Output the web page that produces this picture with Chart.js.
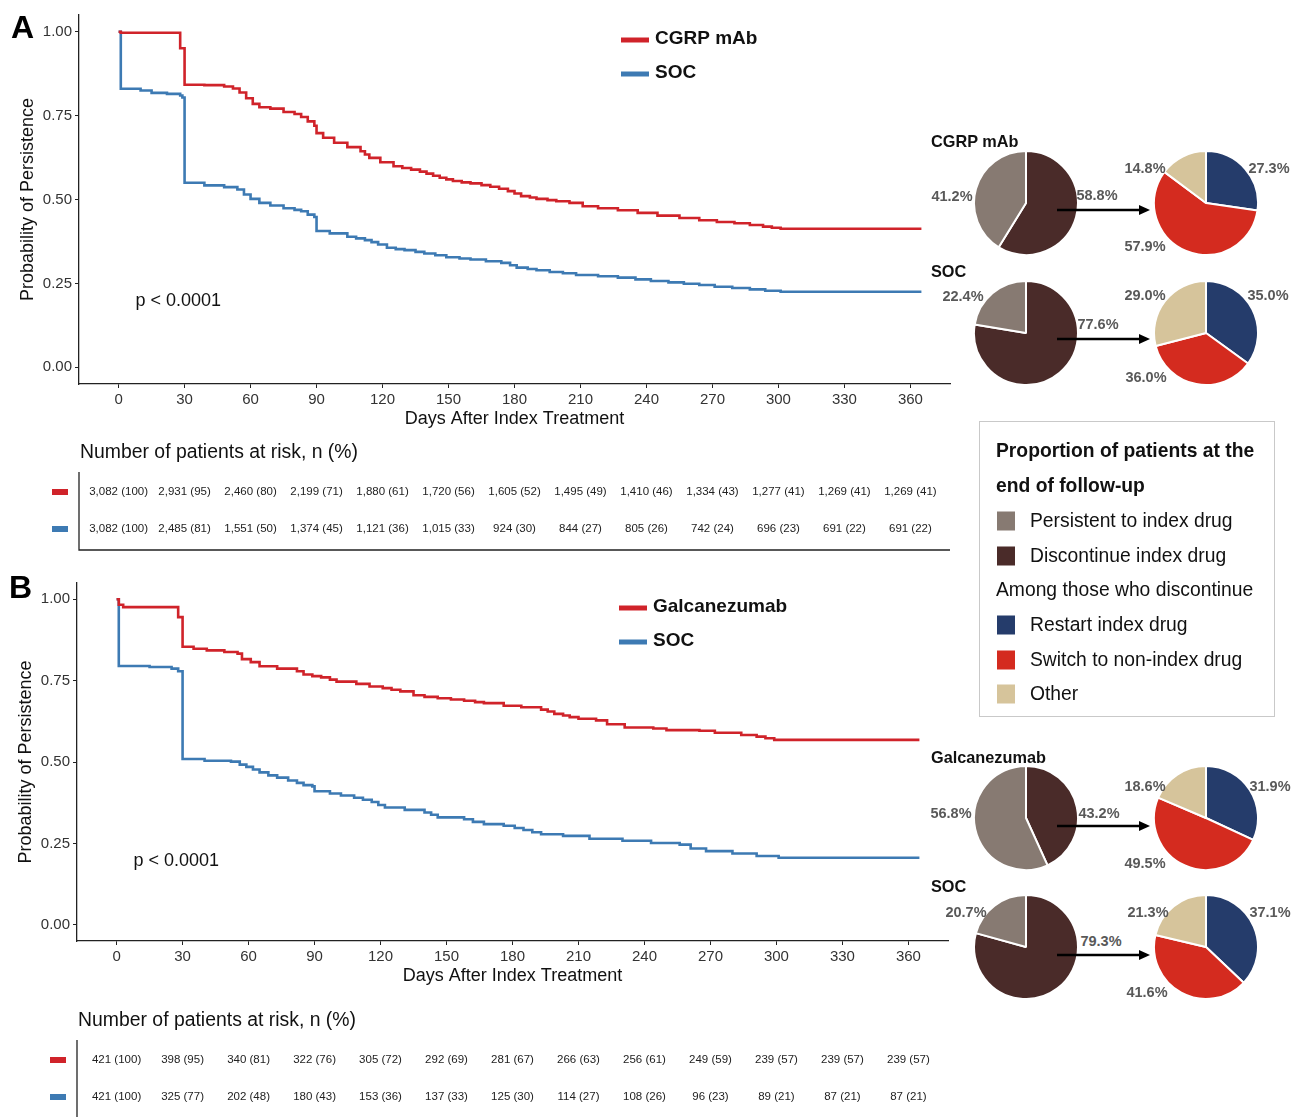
<!DOCTYPE html>
<html>
<head>
<meta charset="utf-8">
<script src="https://cdn.jsdelivr.net/npm/chart.js@4.4.1/dist/chart.umd.min.js"></script>
<style>
  body { margin: 0; background: #fff; font-family: "Liberation Sans", Arial, sans-serif; }
  #page { position: relative; width: 1302px; height: 1117px; overflow: hidden; background: #fff; }
  .abs { position: absolute; }
  .lab { position: absolute; transform: translate(-50%, -50%); font-weight: bold; font-size: 14.5px; color: #595959; white-space: nowrap; }
  .gtitle { position: absolute; transform: translateY(-50%); font-weight: bold; font-size: 16.3px; color: #111; white-space: nowrap; }
  #key { position: absolute; left: 979px; top: 421px; width: 294px; height: 294px; border: 1.5px solid #c9c9c9; }
  #key div { position: absolute; white-space: nowrap; font-size: 19.3px; color: #111; transform: translateY(-50%); }
  #key .sw { width: 18px; height: 19px; transform: translateY(-50%); }
</style>
</head>
<body>
<div id="page">
  <canvas id="kmA" class="abs" width="960" height="560" style="left:0;top:0"></canvas>
  <canvas id="kmB" class="abs" width="960" height="549" style="left:-2px;top:568px"></canvas>
  <div id="pies"></div>
  <svg id="arrows" class="abs" width="1302" height="1117" style="left:0;top:0;pointer-events:none"></svg>
  <div id="key"></div>
</div>
<script>
const RED = "#d0232a";
const BLUE = "#3d7ab3";

// axis ticks
const dayTicks = [0, 30, 60, 90, 120, 150, 180, 210, 240, 270, 300, 330, 360];
const probTicks = [0, 0.25, 0.5, 0.75, 1];

// panel A: CGRP mAb vs SOC
const daysA_cgrp = [0, 1, 28, 30, 39, 48, 52, 55, 58, 61, 64, 69, 75, 80, 83, 86, 89, 90, 93, 98, 104, 110, 112, 114, 119, 125, 129, 133, 137, 140, 143, 146, 149, 152, 156, 160, 165, 169, 173, 177, 180, 183, 187, 190, 195, 199, 205, 211, 218, 227, 236, 245, 255, 264, 272, 280, 287, 293, 297, 301, 365];
const survA_cgrp = [1.0, 0.997, 0.951, 0.842, 0.841, 0.837, 0.831, 0.819, 0.802, 0.785, 0.775, 0.771, 0.761, 0.755, 0.746, 0.733, 0.720, 0.698, 0.684, 0.669, 0.656, 0.644, 0.634, 0.624, 0.611, 0.599, 0.594, 0.589, 0.583, 0.577, 0.571, 0.565, 0.560, 0.555, 0.551, 0.548, 0.543, 0.538, 0.532, 0.525, 0.518, 0.510, 0.506, 0.502, 0.498, 0.495, 0.490, 0.480, 0.474, 0.468, 0.460, 0.452, 0.445, 0.438, 0.433, 0.429, 0.424, 0.419, 0.416, 0.413, 0.413];
const daysA_soc = [0, 1, 10, 15, 22, 28, 29, 30, 39, 48, 54, 57, 60, 64, 69, 75, 80, 83, 86, 89, 90, 96, 104, 108, 112, 115, 118, 122, 126, 130, 135, 139, 144, 149, 155, 160, 167, 174, 178, 181, 186, 190, 196, 202, 208, 218, 227, 235, 242, 250, 257, 264, 271, 279, 287, 294, 301, 365];
const survA_soc = [1.0, 0.830, 0.825, 0.818, 0.815, 0.810, 0.804, 0.550, 0.542, 0.537, 0.530, 0.515, 0.502, 0.490, 0.482, 0.474, 0.469, 0.465, 0.455, 0.448, 0.406, 0.399, 0.389, 0.384, 0.379, 0.373, 0.366, 0.356, 0.352, 0.349, 0.344, 0.339, 0.334, 0.328, 0.324, 0.321, 0.316, 0.311, 0.304, 0.297, 0.293, 0.289, 0.284, 0.280, 0.275, 0.271, 0.267, 0.262, 0.257, 0.253, 0.249, 0.245, 0.240, 0.236, 0.232, 0.228, 0.225, 0.225];

// panel B: Galcanezumab vs SOC
const daysB_galc = [0, 1, 3, 28, 30, 35, 41, 49, 55, 57, 61, 65, 73, 82, 85, 89, 93, 97, 100, 109, 115, 121, 125, 129, 135, 140, 146, 152, 158, 163, 167, 176, 184, 193, 196, 199, 203, 206, 210, 218, 223, 231, 244, 250, 265, 272, 284, 291, 295, 299, 365];
const survB_galc = [1.0, 0.983, 0.976, 0.945, 0.854, 0.848, 0.843, 0.838, 0.833, 0.816, 0.807, 0.794, 0.787, 0.779, 0.769, 0.764, 0.760, 0.753, 0.747, 0.740, 0.732, 0.727, 0.722, 0.717, 0.705, 0.700, 0.696, 0.692, 0.688, 0.684, 0.681, 0.673, 0.668, 0.661, 0.655, 0.648, 0.643, 0.638, 0.633, 0.628, 0.616, 0.606, 0.603, 0.598, 0.596, 0.590, 0.583, 0.578, 0.573, 0.568, 0.568];
const daysB_soc = [0, 1, 15, 25, 28, 30, 40, 52, 56, 59, 62, 65, 69, 73, 78, 82, 85, 89, 90, 97, 102, 108, 112, 116, 119, 122, 131, 140, 143, 146, 158, 162, 167, 176, 181, 185, 189, 193, 203, 215, 230, 243, 256, 261, 268, 280, 291, 301, 365];
const survB_soc = [1.0, 0.795, 0.792, 0.787, 0.779, 0.509, 0.504, 0.501, 0.492, 0.485, 0.477, 0.468, 0.459, 0.452, 0.443, 0.436, 0.429, 0.425, 0.410, 0.403, 0.397, 0.390, 0.384, 0.377, 0.368, 0.360, 0.353, 0.345, 0.338, 0.330, 0.324, 0.316, 0.309, 0.304, 0.297, 0.291, 0.284, 0.278, 0.273, 0.264, 0.258, 0.251, 0.246, 0.234, 0.226, 0.219, 0.211, 0.206, 0.206];

// number at risk, n and (%)
const riskA_cgrp_n = [3082, 2931, 2460, 2199, 1880, 1720, 1605, 1495, 1410, 1334, 1277, 1269, 1269];
const riskA_cgrp_pct = [100, 95, 80, 71, 61, 56, 52, 49, 46, 43, 41, 41, 41];
const riskA_soc_n = [3082, 2485, 1551, 1374, 1121, 1015, 924, 844, 805, 742, 696, 691, 691];
const riskA_soc_pct = [100, 81, 50, 45, 36, 33, 30, 27, 26, 24, 23, 22, 22];
const riskB_galc_n = [421, 398, 340, 322, 305, 292, 281, 266, 256, 249, 239, 239, 239];
const riskB_galc_pct = [100, 95, 81, 76, 72, 69, 67, 63, 61, 59, 57, 57, 57];
const riskB_soc_n = [421, 325, 202, 180, 153, 137, 125, 114, 108, 96, 89, 87, 87];
const riskB_soc_pct = [100, 77, 48, 43, 36, 33, 30, 27, 26, 23, 21, 21, 21];

// end of follow-up proportions (%)
const statusLabels = ["Discontinue index drug", "Persistent to index drug"];
const statusColors = ["#4a2b29", "#877a72"];
const afterLabels = ["Restart index drug", "Switch to non-index drug", "Other"];
const afterColors = ["#253c6b", "#d42b1f", "#d6c49b"];
const cgrpStatus = [58.8, 41.2];
const socAStatus = [77.6, 22.4];
const galcStatus = [43.2, 56.8];
const socBStatus = [79.3, 20.7];
const cgrpAfter = [27.3, 57.9, 14.8];
const socAAfter = [35.0, 36.0, 29.0];
const galcAfter = [31.9, 49.5, 18.6];
const socBAfter = [37.1, 41.6, 21.3];

const FONT = '"Liberation Sans", Arial, sans-serif';
const AXIS = "#222";

/*
 * Extras drawn on each survival canvas: letter, legend, p value, risk table
 */
const kmExtras = {
    id: "kmExtras",
    afterDraw(chart, args, o) {
        const c = chart.ctx;
        const xs = chart.scales.x;
        const ys = chart.scales.y;
        const area = chart.chartArea;
        c.save();

        c.fillStyle = "#000";
        c.textAlign = "left";
        c.textBaseline = "alphabetic";
        c.font = "bold 32px " + FONT;
        c.fillText(o.letter, 11, o.letterY);

        chart.data.datasets.forEach((ds, i) => {
            const y = 40 + i * 34;
            c.strokeStyle = ds.borderColor;
            c.lineWidth = 5;
            c.beginPath();
            c.moveTo(621, y);
            c.lineTo(649, y);
            c.stroke();
            c.fillStyle = "#111";
            c.textBaseline = "middle";
            c.font = "bold 19px " + FONT;
            c.fillText(ds.label, 655, y - 1);
        });

        c.font = "18px " + FONT;
        c.fillStyle = "#111";
        c.fillText("p < 0.0001", xs.getPixelForValue(7.7), ys.getPixelForValue(0.196));

        // risk table
        c.font = "19.4px " + FONT;
        c.fillText("Number of patients at risk, n (%)", 80, 453);
        const rowY = [492, 529];
        c.textAlign = "center";
        c.font = "11.5px " + FONT;
        o.risk.forEach((row, r) => {
            c.fillStyle = chart.data.datasets[r].borderColor;
            c.fillRect(52, rowY[r] - 3, 16, 6);
            c.fillStyle = "#222";
            dayTicks.forEach((d, i) => {
                const txt = row.n[i].toLocaleString("en-US") + " (" + row.pct[i] + ")";
                c.fillText(txt, xs.getPixelForValue(d), rowY[r]);
            });
        });
        c.strokeStyle = AXIS;
        c.lineWidth = 1.3;
        c.beginPath();
        c.moveTo(area.left, 472);
        c.lineTo(area.left, 550);
        c.lineTo(area.right, 550);
        c.stroke();

        c.restore();
    }
};

function steps(days, surv) {
    return days.map((d, i) => ({ x: d, y: surv[i] }));
}

function kmChart(id, names, series, extras) {
    return new Chart(document.getElementById(id), {
        type: "line",
        data: {
            datasets: [
                { label: names[0], data: series[0], borderColor: RED, borderWidth: 2.6, stepped: true, pointRadius: 0, fill: false },
                { label: names[1], data: series[1], borderColor: BLUE, borderWidth: 2.6, stepped: true, pointRadius: 0, fill: false }
            ]
        },
        options: {
            responsive: false,
            animation: false,
            layout: { padding: { left: 0, top: 15, right: 10, bottom: 130 } },
            plugins: { legend: { display: false }, tooltip: { enabled: false }, kmExtras: extras },
            scales: {
                x: {
                    type: "linear", min: -18, max: 378,
                    afterBuildTicks: s => { s.ticks = dayTicks.map(v => ({ value: v })); },
                    afterFit: s => { s.height = 46; },
                    grid: { display: true, drawOnChartArea: false, drawTicks: true, tickLength: 4, color: AXIS },
                    border: { display: true, color: AXIS, width: 1.3 },
                    ticks: { color: "#333", font: { family: FONT, size: 15 }, padding: 3, maxRotation: 0 },
                    title: { display: true, text: "Days After Index Treatment", color: "#111", font: { family: FONT, size: 18 }, padding: { top: 0, bottom: 0 } }
                },
                y: {
                    type: "linear", min: -0.05, max: 1.05,
                    afterBuildTicks: s => { s.ticks = probTicks.map(v => ({ value: v })); },
                    afterFit: s => { s.width = 79; },
                    grid: { display: true, drawOnChartArea: false, drawTicks: true, tickLength: 4, color: AXIS },
                    border: { display: true, color: AXIS, width: 1.3 },
                    ticks: { color: "#333", font: { family: FONT, size: 15 }, padding: 3, callback: v => v.toFixed(2) },
                    title: { display: true, text: "Probability of Persistence", color: "#111", font: { family: FONT, size: 18 }, padding: { top: 17, bottom: 0 } }
                }
            }
        },
        plugins: [kmExtras]
    });
}

kmChart("kmA", ["CGRP mAb", "SOC"],
    [steps(daysA_cgrp, survA_cgrp), steps(daysA_soc, survA_soc)],
    { letter: "A", letterY: 38, risk: [{ n: riskA_cgrp_n, pct: riskA_cgrp_pct }, { n: riskA_soc_n, pct: riskA_soc_pct }] });

kmChart("kmB", ["Galcanezumab", "SOC"],
    [steps(daysB_galc, survB_galc), steps(daysB_soc, survB_soc)],
    { letter: "B", letterY: 30, risk: [{ n: riskB_galc_n, pct: riskB_galc_pct }, { n: riskB_soc_n, pct: riskB_soc_pct }] });

/*
 * Pie pairs
 */
const groups = [
    { title: "CGRP mAb", titleY: 141, cy: 203, arrowY: 210, status: cgrpStatus, after: cgrpAfter,
      statusLab: [[1097, 195], [952, 196]], afterLab: [[1269, 168], [1145, 246], [1145, 168]] },
    { title: "SOC", titleY: 271, cy: 333, arrowY: 339, status: socAStatus, after: socAAfter,
      statusLab: [[1098, 324], [963, 296]], afterLab: [[1268, 295], [1146, 377], [1145, 295]] },
    { title: "Galcanezumab", titleY: 757, cy: 818, arrowY: 826, status: galcStatus, after: galcAfter,
      statusLab: [[1099, 813], [951, 813]], afterLab: [[1270, 786], [1145, 863], [1145, 786]] },
    { title: "SOC", titleY: 886, cy: 947, arrowY: 955, status: socBStatus, after: socBAfter,
      statusLab: [[1101, 941], [966, 912]], afterLab: [[1270, 912], [1147, 992], [1148, 912]] }
];

const pieHolder = document.getElementById("pies");
const svg = document.getElementById("arrows");

function pie(cx, cy, labels, values, colors) {
    const cv = document.createElement("canvas");
    cv.width = 106;
    cv.height = 106;
    cv.className = "abs";
    cv.style.left = (cx - 53) + "px";
    cv.style.top = (cy - 53) + "px";
    pieHolder.appendChild(cv);
    new Chart(cv, {
        type: "pie",
        data: { labels: labels, datasets: [{ data: values, backgroundColor: colors, borderColor: "#fff", borderWidth: 2 }] },
        options: { responsive: false, animation: false, layout: { padding: 0 },
                   plugins: { legend: { display: false }, tooltip: { enabled: false } } }
    });
}

function label(x, y, v) {
    const d = document.createElement("div");
    d.className = "lab";
    d.style.left = x + "px";
    d.style.top = y + "px";
    d.textContent = v.toFixed(1) + "%";
    pieHolder.appendChild(d);
}

groups.forEach(g => {
    const t = document.createElement("div");
    t.className = "gtitle";
    t.style.left = "931px";
    t.style.top = g.titleY + "px";
    t.textContent = g.title;
    pieHolder.appendChild(t);

    pie(1026, g.cy, statusLabels, g.status, statusColors);
    pie(1206, g.cy, afterLabels, g.after, afterColors);
    g.status.forEach((v, i) => label(g.statusLab[i][0], g.statusLab[i][1], v));
    g.after.forEach((v, i) => label(g.afterLab[i][0], g.afterLab[i][1], v));

    svg.insertAdjacentHTML("beforeend",
        '<line x1="1057" y1="' + g.arrowY + '" x2="1141" y2="' + g.arrowY + '" stroke="#000" stroke-width="2.6"/>' +
        '<polygon points="1139,' + (g.arrowY - 5) + ' 1150,' + g.arrowY + ' 1139,' + (g.arrowY + 5) + '" fill="#000"/>');
});

/*
 * Legend box for the pies
 */
const key = document.getElementById("key");
const keyRows = [
    { text: "Proportion of patients at the", y: 29, bold: true },
    { text: "end of follow-up", y: 64, bold: true },
    { text: statusLabels[1], y: 99, color: statusColors[1] },
    { text: statusLabels[0], y: 134, color: statusColors[0] },
    { text: "Among those who discontinue", y: 168 },
    { text: afterLabels[0], y: 203, color: afterColors[0] },
    { text: afterLabels[1], y: 238, color: afterColors[1] },
    { text: afterLabels[2], y: 272, color: afterColors[2] }
];
keyRows.forEach(r => {
    const d = document.createElement("div");
    d.textContent = r.text;
    d.style.top = r.y + "px";
    d.style.left = (r.color ? 50 : 16) + "px";
    if (r.bold) { d.style.fontWeight = "bold"; }
    key.appendChild(d);
    if (r.color) {
        const s = document.createElement("div");
        s.className = "sw";
        s.style.left = "17px";
        s.style.top = r.y + "px";
        s.style.background = r.color;
        key.appendChild(s);
    }
});
</script>
</body>
</html>
